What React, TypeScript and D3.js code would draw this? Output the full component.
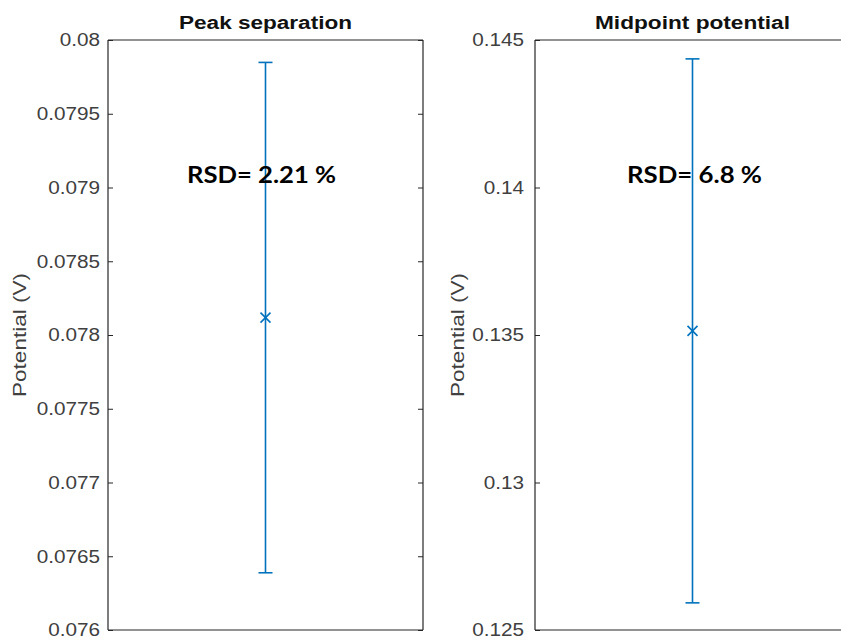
import { useEffect, useRef } from 'react';
import * as d3 from 'd3';

// values
const panelTitles = ['Peak separation', 'Midpoint potential'];
const meanValues = [0.078118, 0.13514];
const errorValues = [0.00173, 0.00922];
const rsdLabels = ['RSD= 2.21 %', 'RSD= 6.8 %'];
const yRanges: [number, number][] = [
  [0.076, 0.08],
  [0.125, 0.145],
];
const yTicks = [
  [0.076, 0.0765, 0.077, 0.0775, 0.078, 0.0785, 0.079, 0.0795, 0.08],
  [0.125, 0.13, 0.135, 0.14, 0.145],
];
const yLabel = 'Potential (V)';

const W = 841;
const H = 643;
const TOP = 40;
const BOTTOM = 630;
const PW = 315;
const blue = '#0072BD';
const axisColor = '#262626';
const textColor = '#404040';

// the second panel is cut off by the right edge of the picture, as in the reference
const layout = [
  { left: 108, labelX: 26, titleLen: 173, rsdX: 187, rsdLen: 149, pad: 8, rightSide: true },
  { left: 535, labelX: 464, titleLen: 195, rsdX: 627, rsdLen: 135, pad: 11, rightSide: false },
];

export default function App() {
  const svgRef = useRef<SVGSVGElement>(null);

  useEffect(() => {
    const svg = d3.select(svgRef.current);
    svg.selectAll('*').remove();
    const fmt = d3.format('~g');
    const sx = 1.12;

    layout.forEach((p, i) => {
      const y = d3.scaleLinear().domain(yRanges[i]).range([BOTTOM, TOP]);
      const x = d3.scaleLinear().domain([0, 2]).range([p.left, p.left + PW]);
      const g = svg.append('g');
      const xEnd = Math.min(p.left + PW, W);

      // left axis with inward ticks
      const left = g
        .append('g')
        .attr('transform', `translate(${p.left},0)`)
        .call(
          d3
            .axisLeft(y)
            .tickValues(yTicks[i])
            .tickFormat(d => fmt(d as number))
            .tickSizeInner(-5)
            .tickSizeOuter(0)
            .tickPadding(p.pad / sx),
        );
      left.select('.domain').remove();
      left.selectAll('line').attr('stroke', axisColor);
      left
        .selectAll('text')
        .attr('font-family', 'Arial, "Liberation Sans", sans-serif')
        .attr('font-size', 18.5)
        .attr('fill', textColor)
        .attr('transform', `scale(${sx},1)`);

      const frame = g.append('g').attr('stroke', axisColor).attr('stroke-width', 1.2);
      frame.append('line').attr('x1', p.left).attr('x2', p.left).attr('y1', TOP).attr('y2', BOTTOM);
      frame.append('line').attr('x1', p.left).attr('x2', xEnd).attr('y1', TOP).attr('y2', TOP);
      frame.append('line').attr('x1', p.left).attr('x2', xEnd).attr('y1', BOTTOM).attr('y2', BOTTOM);

      if (p.rightSide) {
        // right side ticks, no labels
        const right = g
          .append('g')
          .attr('transform', `translate(${p.left + PW},0)`)
          .call(
            d3
              .axisRight(y)
              .tickValues(yTicks[i])
              .tickFormat(() => '')
              .tickSizeInner(-5)
              .tickSizeOuter(0),
          );
        right.select('.domain').remove();
        right.selectAll('line').attr('stroke', axisColor);
        frame.append('line').attr('x1', xEnd).attr('x2', xEnd).attr('y1', TOP).attr('y2', BOTTOM);
      }

      // error bar
      const cx = x(1);
      const lo = y(meanValues[i] - errorValues[i]);
      const hi = y(meanValues[i] + errorValues[i]);
      const my = y(meanValues[i]);
      const bar = g.append('g').attr('stroke', blue).attr('stroke-width', 1.6).attr('fill', 'none');
      bar.append('line').attr('x1', cx).attr('x2', cx).attr('y1', lo).attr('y2', hi);
      bar.append('line').attr('x1', cx - 7).attr('x2', cx + 7).attr('y1', lo).attr('y2', lo);
      bar.append('line').attr('x1', cx - 7).attr('x2', cx + 7).attr('y1', hi).attr('y2', hi);
      bar.append('line').attr('x1', cx - 5).attr('x2', cx + 5).attr('y1', my - 5).attr('y2', my + 5);
      bar.append('line').attr('x1', cx - 5).attr('x2', cx + 5).attr('y1', my + 5).attr('y2', my - 5);

      // title
      g.append('text')
        .attr('x', cx)
        .attr('y', 29)
        .attr('text-anchor', 'middle')
        .attr('font-family', 'Arial, "Liberation Sans", sans-serif')
        .attr('font-weight', 'bold')
        .attr('font-size', 18)
        .attr('fill', '#111')
        .attr('textLength', p.titleLen)
        .attr('lengthAdjust', 'spacingAndGlyphs')
        .text(panelTitles[i]);

      // y label
      g.append('text')
        .attr('transform', `translate(${p.labelX},${(TOP + BOTTOM) / 2}) rotate(-90)`)
        .attr('text-anchor', 'middle')
        .attr('font-family', 'Arial, "Liberation Sans", sans-serif')
        .attr('font-size', 18.5)
        .attr('fill', textColor)
        .attr('textLength', 124)
        .attr('lengthAdjust', 'spacingAndGlyphs')
        .text(yLabel);

      // RSD annotation
      g.append('text')
        .attr('x', p.rsdX)
        .attr('y', 183)
        .attr('font-family', 'Lato, "Open Sans", sans-serif')
        .attr('font-weight', 'bold')
        .attr('font-size', 22)
        .attr('fill', '#000')
        .attr('textLength', p.rsdLen)
        .attr('lengthAdjust', 'spacingAndGlyphs')
        .text(rsdLabels[i]);
    });
  }, []);

  return (
    <svg
      ref={svgRef}
      width={W}
      height={H}
      style={{ position: 'absolute', left: 0, top: 0, background: '#fff', overflow: 'hidden' }}
    />
  );
}
